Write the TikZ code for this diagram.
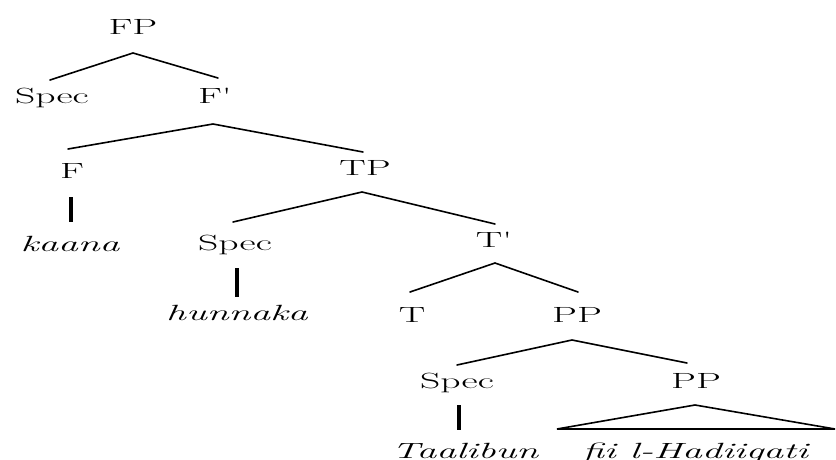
\documentclass[tikz,border=0pt]{standalone}
\usepackage{graphicx}
\newcommand{\widetext}[1]{\scalebox{1.8}[1]{#1}}
\tikzset{
  lab/.style={inner sep=0pt, anchor=base, font=\fontsize{22}{26}\selectfont},
  branch/.style={line width=1.6pt, line cap=round},
  bar/.style={line width=3.6pt},
  tri/.style={line width=1.6pt, line join=miter}
}
\begin{document}
\begin{tikzpicture}[x=1pt, y=-1pt]
\useasboundingbox[fill=white] (0,0) rectangle (836,460);
% nodes
\node[lab] (fp)     at (133,35)  {\widetext{FP}};
\node[lab] (spec1)  at (52,103)  {\widetext{Spec}};
\node[lab] (fbar)   at (215,103) {\widetext{F\textquotesingle}};
\node[lab] (f)      at (72,178)  {\widetext{F}};
\node[lab] (tp)     at (365,175) {\widetext{TP}};
\node[lab] (kaana)  at (70,251)  {\widetext{\itshape kaana}};
\node[lab] (spec2)  at (235,250) {\widetext{Spec}};
\node[lab] (tbar)   at (494,247) {\widetext{T\textquotesingle}};
\node[lab] (hunnaka) at (237,320) {\widetext{\itshape hunnaka}};
\node[lab] (t)      at (412,322) {\widetext{T}};
\node[lab] (pp1)    at (577,322) {\widetext{PP}};
\node[lab] (spec3)  at (457,388) {\widetext{Spec}};
\node[lab] (pp2)    at (696,388) {\widetext{PP}};
\node[lab] (taalibun) at (465,458) {\widetext{\itshape Taalibun}};
\node[lab] (fii)    at (695,458) {\widetext{\itshape fii l-Hadiiqati}};
% branches
\draw[branch] ([xshift=-2pt,yshift=23pt]spec1.base) -- ([yshift=-18pt]fp.base) -- ([xshift=3pt,yshift=25pt]fbar.base);
\draw[branch] ([xshift=-4pt,yshift=29pt]f.base) -- ([xshift=-2pt,yshift=-21pt]fbar.base) -- ([xshift=-2pt,yshift=23pt]tp.base);
\draw[branch] ([xshift=-2pt,yshift=28pt]spec2.base) -- ([xshift=-3pt,yshift=-17pt]tp.base) -- ([xshift=1pt,yshift=23pt]tbar.base);
\draw[branch] ([xshift=-2pt,yshift=30pt]t.base) -- ([xshift=1pt,yshift=-16pt]tbar.base) -- ([xshift=1pt,yshift=30pt]pp1.base);
\draw[branch] ([yshift=23pt]spec3.base) -- ([xshift=-5pt,yshift=-18pt]pp1.base) -- ([xshift=-9pt,yshift=25pt]pp2.base);
% unary bars
\draw[bar] ([xshift=-1pt,yshift=-19pt]f.base) -- ([xshift=1pt,yshift=29pt]kaana.base);
\draw[bar] ([xshift=2pt,yshift=-18pt]spec2.base) -- ([yshift=23pt]hunnaka.base);
\draw[bar] ([xshift=2pt,yshift=-17pt]spec3.base) -- ([xshift=-6pt,yshift=28pt]taalibun.base);
% triangle
\draw[tri] ([xshift=-1pt,yshift=-17pt]pp2.base) -- ([xshift=-138pt,yshift=29pt]fii.base) -- ([xshift=140pt,yshift=29pt]fii.base) -- cycle;
\draw[line width=2.6pt] ([xshift=-136pt,yshift=29pt]fii.base) -- ([xshift=139pt,yshift=29pt]fii.base);
\end{tikzpicture}
\end{document}
